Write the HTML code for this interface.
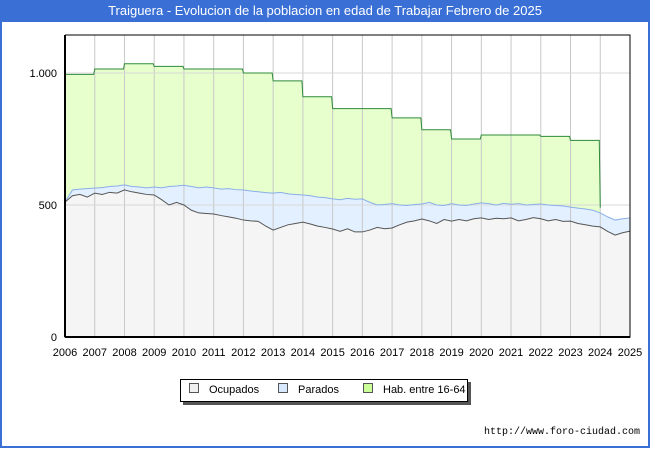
<!DOCTYPE html>
<html><head><meta charset="utf-8"><style>
body{margin:0;width:650px;height:450px;overflow:hidden;background:#fff;font-family:"Liberation Sans","DejaVu Sans",sans-serif}
#frame{position:absolute;left:0;top:0;width:646px;height:446px;border:2px solid #3a70d6;border-top:none}
#title{position:absolute;left:0;top:0;width:650px;height:22px;background:#3a70d6;color:#fff;font-size:13px;line-height:22px;text-align:center}
</style></head><body>
<div id="frame"></div>
<div id="title">Traiguera - Evolucion de la poblacion en edad de Trabajar Febrero de 2025</div>
<svg id="chart" width="650" height="450" style="position:absolute;left:0;top:0"></svg>
<script>
const years=[2006,2007,2008,2009,2010,2011,2012,2013,2014,2015,2016,2017,2018,2019,2020,2021,2022,2023,2024,2025];
const yTicks=[0,500,1000];
const yTickLabels=["0","500","1.000"];
const habValues=[995,1015,1035,1025,1015,1015,1000,970,910,865,865,830,785,750,765,765,760,745];
const habEndValue=490;
const ocupados=[511,535,540,530,545,540,548,545,557,550,545,540,538,520,500,510,500,480,470,468,466,460,455,450,443,440,438,420,405,415,425,430,435,428,420,415,409,400,410,398,398,405,415,410,413,425,435,440,447,440,430,445,439,445,440,448,451,445,450,448,451,440,445,452,448,440,445,438,439,430,425,420,417,400,386,395,401];
const totalActive=[511,557,560,562,564,566,570,572,576,570,568,565,568,565,570,572,575,570,565,568,565,560,562,558,557,553,550,547,545,548,542,540,538,535,530,528,523,520,525,522,523,510,500,502,505,500,498,502,504,510,500,498,505,500,498,504,508,505,500,506,503,505,500,502,504,500,498,496,492,488,485,480,470,455,443,448,451];
const NS="http://www.w3.org/2000/svg";
const svg=document.getElementById('chart');
const L=65,R=630,T=35,B=337;
const x=t=>L+(t-2006)/(2025-2006)*(R-L);
const y=v=>B-v*(B-73)/1000;
function el(tag,attrs,parent){const e=document.createElementNS(NS,tag);for(const k in attrs)e.setAttribute(k,attrs[k]);(parent||svg).appendChild(e);return e;}
// hab area
let hp=`M${x(2006)},${y(0)}`;
habValues.forEach((v,i)=>{hp+=` L${x(years[i])},${y(v)} L${x(years[i]+1)-1},${y(v)}`;});
hp+=` L${x(2024)},${y(habEndValue)} L${x(2024)},${y(0)} Z`;
const ha=el('path',{d:hp,fill:'#e6ffcc',stroke:'none'});


// parados area
const tq=i=>2006+i/4;
let pp=`M${x(2006)},${y(0)}`;
totalActive.forEach((v,i)=>{pp+=` L${x(tq(i))},${y(v)}`;});
pp+=` L${x(tq(totalActive.length-1))},${y(0)} Z`;
const pa=el('path',{d:pp,fill:'#e3f0ff',stroke:'none'});


let op=`M${x(2006)},${y(0)}`;
ocupados.forEach((v,i)=>{op+=` L${x(tq(i))},${y(v)}`;});
op+=` L${x(tq(ocupados.length-1))},${y(0)} Z`;
const oa=el('path',{d:op,fill:'#f5f5f5',stroke:'none'});


// grid
years.forEach(yr=>{const g=el('line',{x1:x(yr),x2:x(yr),y1:T,y2:B,stroke:'#c8c8c8','stroke-width':1});

});
yTicks.forEach((v,i)=>{const g=el('line',{x1:L,x2:R,y1:y(v),y2:y(v),stroke:'#d8d8d8','stroke-width':1});


const t=el('text',{x:L-8,y:y(v)+4,'text-anchor':'end','font-size':11,fill:'#000'});t.textContent=yTickLabels[i];

});
years.forEach(yr=>{const t=el('text',{x:x(yr),y:B+19,'text-anchor':'middle','font-size':11,fill:'#000'});t.textContent=yr;

});
// lines
let hl='';habValues.forEach((v,i)=>{hl+=`${i?'L':'M'}${x(years[i])},${y(v)} L${x(years[i]+1)-1},${y(v)} `;});
hl+=`L${x(2024)},${y(habEndValue)}`;
const hln=el('path',{d:hl,fill:'none',stroke:'#2e8b3a','stroke-width':1});


const pl=el('polyline',{points:totalActive.map((v,i)=>x(tq(i))+','+y(v)).join(' '),fill:'none',stroke:'#8aaee8','stroke-width':1});


const ol=el('polyline',{points:ocupados.map((v,i)=>x(tq(i))+','+y(v)).join(' '),fill:'none',stroke:'#555','stroke-width':1});


// axes
const ax=el('path',{d:`M${L},${T} L${L},${B} L${R},${B} L${R},${T} L${L},${T}`,fill:'none',stroke:'#000','stroke-width':1});


el('line',{x1:L,x2:L,y1:T,y2:B,stroke:'#000','stroke-width':2});
el('line',{x1:L,x2:R,y1:B,y2:B,stroke:'#000','stroke-width':2});
</script>
<div style="position:absolute;left:180px;top:379px;width:286px;height:21px;border:1px solid #000;box-shadow:3px 3px 0 #555;background:#fff;font-size:11px;line-height:21px">
<span style="position:absolute;left:8px"><span style="display:inline-block;width:8px;height:8px;border:1px solid #555;background:#f0f0f0;margin-right:10px"></span>Ocupados</span>
<span style="position:absolute;left:97px"><span style="display:inline-block;width:8px;height:8px;border:1px solid #555;background:#d8e8ff;margin-right:10px"></span>Parados</span>
<span style="position:absolute;left:182px"><span style="display:inline-block;width:8px;height:8px;border:1px solid #555;background:#ccff99;margin-right:10px"></span>Hab. entre 16-64</span>
</div>
<div style="position:absolute;right:10px;top:427px;font-size:10px;font-family:'Liberation Mono',monospace">http://www.foro-ciudad.com</div>
</body></html>
